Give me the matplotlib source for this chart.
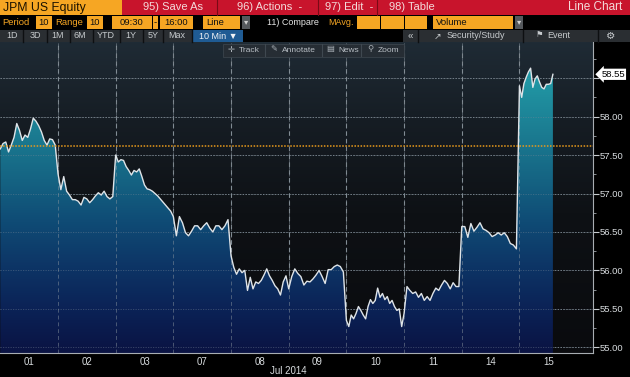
"""JPM US Equity intraday line chart, Bloomberg terminal style."""
import numpy as np
import matplotlib
matplotlib.use("Agg")
import matplotlib.pyplot as plt
from matplotlib.colors import LinearSegmentedColormap
from matplotlib.patches import Rectangle

plt.rcParams["font.family"] = ["Liberation Sans", "DejaVu Sans"]

# ---- data (10 sessions, July 2014) ----
day_labels = ["01", "02", "03", "07", "08", "09", "10", "11", "14", "15"]
jul01 = [57.58, 57.65, 57.67, 57.54, 57.63, 57.73, 57.91, 57.82, 57.69, 57.76, 57.73,
         57.84, 57.98, 57.94, 57.88, 57.80, 57.69, 57.63, 57.71, 57.70, 57.63]
jul02 = [57.26, 57.05, 57.22, 57.03, 56.98, 56.92, 56.92, 56.90, 56.85, 56.95,
         56.93, 56.88, 56.92, 56.97, 57.01, 56.98, 57.03, 56.96, 56.93, 56.96]
jul03 = [57.50, 57.41, 57.44, 57.43, 57.35, 57.30, 57.24, 57.30, 57.28, 57.32, 57.22,
         57.11, 57.06, 57.05, 57.03, 57.00, 56.97, 56.93, 56.89, 56.85, 56.81, 56.77]
jul07 = [56.70, 56.45, 56.70, 56.62, 56.49, 56.45, 56.51, 56.58, 56.58, 56.53,
         56.58, 56.62, 56.55, 56.50, 56.58, 56.58, 56.53, 56.58, 56.66]
jul08 = [56.19, 56.04, 55.95, 56.02, 55.97, 56.00, 55.74, 55.91, 55.76, 55.85, 55.83,
         55.87, 55.94, 56.02, 55.93, 55.87, 55.80, 55.76, 55.68, 55.85, 55.93]
jul09 = [55.76, 55.92, 56.02, 55.96, 55.92, 55.81, 55.86, 55.85, 55.89, 55.94,
         56.00, 55.92, 55.83, 56.01, 56.01, 56.05, 56.07, 56.05, 55.98]
jul10 = [55.35, 55.27, 55.42, 55.37, 55.44, 55.53, 55.48, 55.42, 55.37, 55.53, 55.62, 55.57,
         55.61, 55.77, 55.65, 55.70, 55.62, 55.66, 55.57, 55.61, 55.53, 55.48, 55.50, 55.27]
jul11 = [55.44, 55.79, 55.74, 55.70, 55.72, 55.65, 55.70, 55.61, 55.66, 55.61,
         55.70, 55.77, 55.74, 55.81, 55.87, 55.83, 55.76, 55.84, 55.79, 55.79]
jul14 = [56.57, 56.57, 56.43, 56.61, 56.51, 56.56, 56.62, 56.54, 56.52, 56.49,
         56.44, 56.46, 56.49, 56.46, 56.49, 56.44, 56.35, 56.33, 56.28]
jul15 = [58.40, 58.25, 58.43, 58.51, 58.58, 58.63, 58.38, 58.49, 58.53, 58.45,
         58.38, 58.36, 58.42, 58.42, 58.43, 58.55]
sessions = [jul01, jul02, jul03, jul07, jul08, jul09, jul10, jul11, jul14, jul15]
last_session_done = 0.58   # share of the 15 Jul session elapsed
prev_close = 57.62
last_price = 58.55
price_ticks = [55.0, 55.5, 56.0, 56.5, 57.0, 57.5, 58.0, 58.5]

# ---- build x positions: one unit per session ----
xs, ys = [], []
for d, vals in enumerate(sessions):
    n = len(vals)
    if d < len(sessions) - 1:
        pos = d + np.arange(n) / n
    else:
        pos = d + np.linspace(0, last_session_done, n)
    xs.extend(pos)
    ys.extend(vals)
xs = np.array(xs)
ys = np.array(ys)

W, H = 630, 377
fig = plt.figure(figsize=(W / 100, H / 100), dpi=100, facecolor="black")

ax_top, ax_bot, ax_right = 42, 353, 593
ax = fig.add_axes([0, (H - ax_bot) / H, ax_right / W, (ax_bot - ax_top) / H])
ylo, yhi = 54.926, 58.97
xlo, xhi = -0.005, 10.275

# background gradient
bg_cmap = LinearSegmentedColormap.from_list(
    "bg", [(0, "#0a0b0e"), (0.45, "#0e1115"), (0.75, "#161d24"), (1, "#1f2b35")])
grad = np.linspace(0, 1, 256).reshape(-1, 1)
ax.imshow(grad, extent=[xlo, xhi, ylo, yhi], aspect="auto", origin="lower",
          cmap=bg_cmap, zorder=0)

# gridlines
for p in price_ticks:
    ax.axhline(p, color="#6f787f", lw=0.7, ls=(0, (1.5, 1.5)), zorder=1)
for d in range(1, len(sessions)):
    ax.axvline(d, color="#7c858c", lw=0.8, ls=(0, (4, 3)), zorder=1)

# area fill gradient clipped to the price polygon
fill_cmap = LinearSegmentedColormap.from_list(
    "fill", [(0, "#0a1343"), (0.15, "#0b2256"), (0.3, "#0d3566"), (0.45, "#0f4b75"),
             (0.6, "#156483"), (0.75, "#1b7b91"), (0.88, "#1f8e9e"), (1, "#22a0ac")])
poly = ax.fill_between(xs, ys, ylo, facecolor="none", edgecolor="none")
im = ax.imshow(grad, extent=[xlo, xhi, ylo, 58.7], aspect="auto", origin="lower",
               cmap=fill_cmap, zorder=2)
im.set_clip_path(poly.get_paths()[0], transform=ax.transData)

# gridlines drawn again faintly over the fill
for p in price_ticks:
    ax.axhline(p, color="#7a8a99", lw=0.6, ls=(0, (1.5, 1.5)), alpha=0.45, zorder=3)
for d in range(1, len(sessions)):
    ax.axvline(d, color="#8a96a0", lw=0.7, ls=(0, (4, 3)), alpha=0.5, zorder=3)

ax.plot(xs, ys, color="#dfe4e8", lw=1.0, zorder=4)
ax.axhline(prev_close, color="#e89a1c", lw=1.1, ls=(0, (1, 1)), zorder=4)

ax.set_xlim(xlo, xhi)
ax.set_ylim(ylo, yhi)

# axes styling
for side in ("top", "left"):
    ax.spines[side].set_visible(False)
for side in ("bottom", "right"):
    ax.spines[side].set_color("#a8adb2")
    ax.spines[side].set_linewidth(0.8)
ax.yaxis.tick_right()
ax.set_yticks(price_ticks)
ax.set_yticklabels([f"{p:.2f}" if p < 58.5 else "" for p in price_ticks])
ax.set_yticks(np.arange(55.25, 58.9, 0.5), minor=True)
ax.tick_params(axis="y", which="major", direction="out", length=4, width=0.8,
               color="#c8ccd0", labelcolor="#d8dcdf", labelsize=6.8, pad=1)
ax.tick_params(axis="y", which="minor", direction="out", length=2, width=0.6,
               color="#a0a6ab")
ax.set_xticks(np.arange(len(sessions)) + 0.5)
ax.set_xticklabels(day_labels)
ax.tick_params(axis="x", length=0, labelcolor="#d8dcdf", labelsize=7, pad=3)
ax.text(5.0, -0.058, "Jul 2014", transform=ax.get_xaxis_transform(), ha="center",
        va="center", color="#d8dcdf", fontsize=7)
ax.text(1.014, last_price, f"{last_price:.2f}", transform=ax.get_yaxis_transform(),
        ha="left", va="center", color="black", fontsize=6.8, clip_on=False, zorder=6,
        bbox=dict(boxstyle="larrow,pad=0.12", fc="white", ec="none"))

# ---- terminal toolbar overlay (pixel coords) ----
ov = fig.add_axes([0, 0, 1, 1], zorder=5)
ov.set_xlim(0, W)
ov.set_ylim(H, 0)
ov.axis("off")
ov.patch.set_visible(False)

ORANGE = "#f6a623"
RED = "#c8142c"


def box(x0, y0, x1, y1, color, ec="none"):
    ov.add_patch(Rectangle((x0, y0), x1 - x0, y1 - y0, fc=color, ec=ec, lw=0.6))


def label(x, y, s, color, size=7.0, ha="left"):
    ov.text(x, y, s, color=color, fontsize=size, ha=ha, va="center")


# row 1
box(0, 0, 122, 15, ORANGE)
label(3, 7.5, "JPM US Equity", "#1b1200", 8.8)
box(122, 0, W, 15, RED)
for sx in (217, 318, 377):
    ov.plot([sx, sx], [0, 15], color="#7a0a16", lw=0.8)
label(143, 7.5, "95) Save As", "#f4dada", 8)
label(237, 7.5, "96) Actions  -", "#f4dada", 8)
label(325, 7.5, "97) Edit  -", "#f4dada", 8)
label(389, 7.5, "98) Table", "#f4dada", 8)
label(622, 7.5, "Line Chart", "#f4dada", 8.5, ha="right")

# row 2
ry = 22.5
label(2, ry, "Period", ORANGE, 6.8)
box(36, 16, 52, 29, ORANGE)
label(44, ry, "10", "#111111", 6.8, ha="center")
label(55, ry, "Range", ORANGE, 6.8)
box(87, 16, 103, 29, ORANGE)
label(95, ry, "10", "#111111", 6.8, ha="center")
box(112, 16, 152, 29, ORANGE)
label(132, ry, "09:30", "#111111", 6.8, ha="center")
box(153, 16, 158, 29, ORANGE)
label(155.5, ry, "-", "#111111", 6.8, ha="center")
box(160, 16, 193, 29, ORANGE)
label(176.5, ry, "16:00", "#111111", 6.8, ha="center")
box(203, 16, 240, 29, ORANGE)
label(206, ry, "Line", "#111111", 6.8)
box(242, 16, 250, 29, "#55595d")
label(246, ry, "▾", "#d0d0d0", 6, ha="center")
label(267, ry, "11) Compare", "#e6e6e6", 6.5)
label(328, ry, "MAvg.", ORANGE, 6.5)
for bx in ((357, 380), (381, 404), (405, 427)):
    box(bx[0], 16, bx[1], 29, ORANGE)
box(433, 16, 513, 29, ORANGE)
label(436, ry, "Volume", "#111111", 6.8)
box(515, 16, 523, 29, "#55595d")
label(519, ry, "▾", "#d0d0d0", 6, ha="center")

# row 3
r3 = 36
box(0, 30, 192, 42, "#2a2e32")
for sx in (23, 47, 70, 93, 120, 143, 163, 192):
    ov.plot([sx, sx], [30, 42], color="#0d0f11", lw=1)
for cx, s in ((12, "1D"), (35, "3D"), (58, "1M"), (80, "6M"), (106, "YTD"),
              (131, "1Y"), (153, "5Y"), (177, "Max")):
    label(cx, r3, s, "#c6cacd", 6.5, ha="center")
box(193, 30, 243, 42, "#1f5b93")
label(218, r3, "10 Min ▼", "#f2f4f6", 6.5, ha="center")
box(403, 30, W, 42, "#2a2e32")
for sx in (418, 523, 598):
    ov.plot([sx, sx], [30, 42], color="#0d0f11", lw=1)
label(410, r3, "«", "#c6cacd", 7, ha="center")
label(437, r3, "↗", "#c6cacd", 6.5, ha="center")
label(447, r3, "Security/Study", "#c6cacd", 6.5)
label(539, r3, "⚑", "#c6cacd", 6, ha="center")
label(547, r3, "Event", "#c6cacd", 6.5)
label(611, r3, "⚙", "#c6cacd", 7.5, ha="center")

# chart toolbar
box(223, 43.5, 404, 56.5, "#262d34", ec="#3a434b")
for sx in (265, 322, 361):
    ov.plot([sx, sx], [44, 56], color="#3f4850", lw=0.8)
r4 = 50
label(231, r4, "✛", "#aab1b7", 6, ha="center")
label(239, r4, "Track", "#b8bec4", 6)
label(274, r4, "✎", "#aab1b7", 6, ha="center")
label(282, r4, "Annotate", "#b8bec4", 6)
label(330, r4, "▤", "#aab1b7", 6, ha="center")
label(338, r4, "News", "#b8bec4", 6)
label(370, r4, "⚲", "#aab1b7", 6, ha="center")
label(378, r4, "Zoom", "#b8bec4", 6)

fig.savefig("out.png", dpi=100, facecolor="black")
